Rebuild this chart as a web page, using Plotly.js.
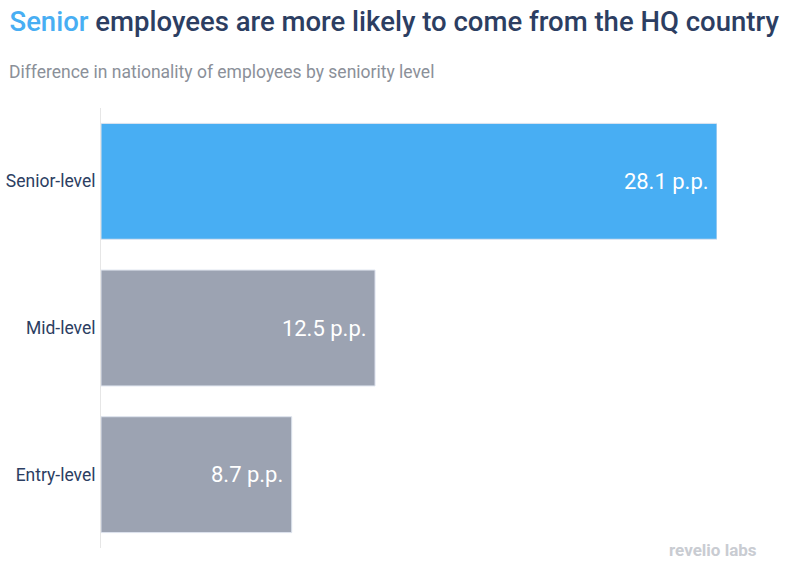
<!DOCTYPE html>
<html><head><meta charset="utf-8">
<script src="https://cdn.plot.ly/plotly-3.0.1.min.js"></script>
<style>body{margin:0;background:#fff}#chart{width:791px;height:573px}</style>
</head><body><div id="chart"></div>
<script>
const categories = ["Entry-level", "Mid-level", "Senior-level"];
const values = [8.7, 12.5, 28.1];
const labels = ["8.7 p.p.", "12.5 p.p.", "28.1 p.p."];
const colors = ["#9ca3b2", "#9ca3b2", "#48aef3"];

const trace = {
  type: "bar", orientation: "h",
  y: categories, x: values,
  text: labels.map(s => s + "\u00a0"), textposition: "inside", insidetextanchor: "end",
  textfont: {family: "Roboto", size: 22, color: "#ffffff"},
  marker: {color: colors, line: {color: "#dde3ee", width: 1}},
  hoverinfo: "none", cliponaxis: false
};
const layout = {
  width: 791, height: 573,
  margin: {l: 101, r: 74, t: 108, b: 25},
  paper_bgcolor: "#fff", plot_bgcolor: "#fff",
  bargap: 0.21,
  showlegend: false,
  font: {family: "Roboto"},
  title: {
    text: '<span style="color:#48aef3">Senior</span> employees are more likely to come from the HQ country',
    x: 0.012, xanchor: "left", y: 0.962, yanchor: "middle",
    font: {family: "Roboto", size: 27.5, color: "#2c3e62", weight: 500}
  },
  xaxis: {range: [0, 28.1], visible: false, fixedrange: true},
  yaxis: {
    showline: true, linecolor: "#e6e6e6", linewidth: 1,
    showgrid: false, zeroline: false, ticks: "", ticklen: 0,
    tickfont: {family: "Roboto", size: 17.5, color: "#2c3e62"},
    ticklabelstandoff: 1
  },
  annotations: [
    {text: "Difference in nationality of employees by seniority level", xref: "paper", yref: "paper",
     x: -94/616, y: 1 + 36/440, xanchor: "left", yanchor: "middle", showarrow: false,
     font: {family: "Roboto", size: 17.5, color: "#8b9099"}},
    {text: "<b>revelio labs</b>", xref: "paper", yref: "paper", x: 1 + 42/616, y: -2/440,
     xanchor: "right", yanchor: "middle", showarrow: false,
     font: {family: "Roboto", size: 17, color: "#c9ccd2"}}
  ]
};
Plotly.newPlot("chart", [trace], layout, {displayModeBar: false, staticPlot: true});
</script></body></html>
